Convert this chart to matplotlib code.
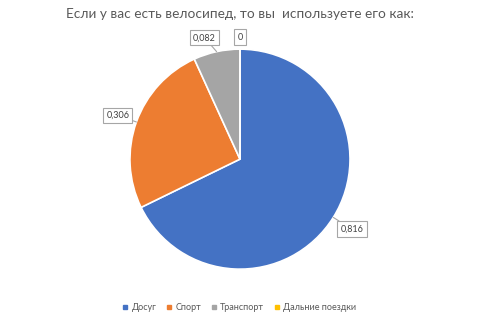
import numpy as np
import matplotlib
matplotlib.use("Agg")
import matplotlib.pyplot as plt

plt.rcParams["font.family"] = ["Lato", "DejaVu Sans"]

title = "Если у вас есть велосипед, то вы  используете его как:"
categories = ["Досуг", "Спорт", "Транспорт", "Дальние поездки"]
values = [0.816, 0.306, 0.082, 0.0]
value_labels = ["0,816", "0,306", "0,082", "0"]
colors = ["#4472C4", "#ED7D31", "#A5A5A5", "#FFC000"]

fig = plt.figure(figsize=(4.79, 3.17), dpi=100)
ax = fig.add_axes([0.501 - 0.2297, 0.498 - 0.347, 0.4594, 0.694])
wedges, _ = ax.pie(values, colors=colors, startangle=90, counterclock=False,
                   wedgeprops=dict(edgecolor="white", linewidth=1.2))
ax.set_xlim(-1, 1)
ax.set_ylim(-1, 1)
ax.set_aspect("auto")
ax.axis("off")

label_r = [1.2, 1.18, 1.15, 1.11]
label_da = [0, 0, 4, 0]
total = sum(values)
ang = 90.0
for i, (v, lab) in enumerate(zip(values, value_labels)):
    span = v / total * 360
    mid = np.deg2rad(ang - span / 2)
    mid_l = mid + np.deg2rad(label_da[i])
    ang -= span
    x0, y0 = np.cos(mid), np.sin(mid)
    r = label_r[i]
    ax.annotate(lab, xy=(x0, y0), xytext=(np.cos(mid_l) * r, np.sin(mid_l) * r),
                ha="center", va="center", fontsize=6.5, color="#404040",
                bbox=dict(boxstyle="square,pad=0.35", fc="white", ec="#A6A6A6", lw=0.8),
                arrowprops=dict(arrowstyle="-", color="#A6A6A6", lw=0.8,
                                shrinkA=0, shrinkB=0) if v > 0 else None,
                annotation_clip=False)

fig.text(0.5, 1 - 14 / 317, title, ha="center", va="center", fontsize=9.8,
         color="#595959")

handles = [plt.Line2D([], [], marker="s", linestyle="none", markersize=3,
                      markerfacecolor=c, markeredgecolor=c) for c in colors]
fig.legend(handles, categories, loc="center", bbox_to_anchor=(0.5, 1 - 308 / 317),
           ncol=4, frameon=False, fontsize=6.5, handlelength=0.6, handletextpad=0.4,
           columnspacing=1.1, labelcolor="#595959")

fig.savefig("out.png", dpi=100)
